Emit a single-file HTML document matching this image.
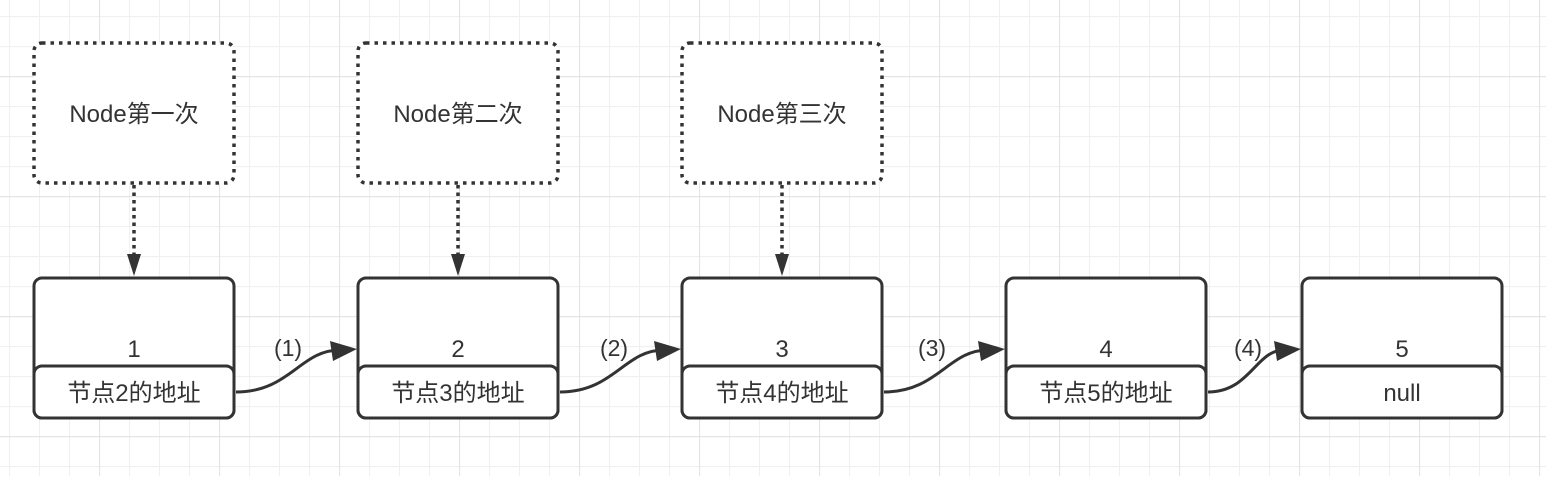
<!DOCTYPE html>
<html><head><meta charset="utf-8"><style>
body{margin:0;width:1546px;height:476px;overflow:hidden;background:#fff;}
</style></head><body>
<svg width="1546" height="476" xmlns="http://www.w3.org/2000/svg" font-family="Liberation Sans, Noto Sans CJK SC, sans-serif">
<defs>
<pattern id="g" width="30" height="30" patternUnits="userSpaceOnUse" x="9" y="16"><path d="M0 0.5H30M0.5 0V30" stroke="#f0f0f0" stroke-width="1.2" fill="none"/></pattern>
<pattern id="G" width="120" height="120" patternUnits="userSpaceOnUse" x="99" y="76"><path d="M0 0.5H120M0.5 0V120" stroke="#e4e4e4" stroke-width="1.2" fill="none"/></pattern>
</defs>
<rect width="1546" height="476" fill="url(#g)"/>
<rect width="1546" height="476" fill="url(#G)"/>
<g fill="#fff" stroke="#333" stroke-width="3.5" stroke-dasharray="3.5,5">
<rect x="34" y="43" width="200" height="140" rx="8"/>
<rect x="358" y="43" width="200" height="140" rx="8"/>
<rect x="682" y="43" width="200" height="140" rx="8"/>
</g>
<g stroke="#333" stroke-width="3.5" stroke-dasharray="3.5,4">
<line x1="134" y1="185" x2="134" y2="256"/>
<line x1="458" y1="185" x2="458" y2="256"/>
<line x1="782" y1="185" x2="782" y2="256"/>
</g>
<g fill="#333">
<path d="M127 254L141 254L134 276z"/>
<path d="M451 254L465 254L458 276z"/>
<path d="M775 254L789 254L782 276z"/>
</g>
<g font-size="24" fill="#333" text-anchor="middle">
<text x="134" y="122">Node第一次</text>
<text x="458" y="122">Node第二次</text>
<text x="782" y="122">Node第三次</text>
</g>
<g fill="#fff" stroke="#333" stroke-width="3">
<rect x="34" y="278" width="200" height="140" rx="8"/><rect x="34" y="366" width="200" height="52" rx="8"/>
<rect x="358" y="278" width="200" height="140" rx="8"/><rect x="358" y="366" width="200" height="52" rx="8"/>
<rect x="682" y="278" width="200" height="140" rx="8"/><rect x="682" y="366" width="200" height="52" rx="8"/>
<rect x="1006" y="278" width="200" height="140" rx="8"/><rect x="1006" y="366" width="200" height="52" rx="8"/>
<rect x="1302" y="278" width="200" height="140" rx="8"/><rect x="1302" y="366" width="200" height="52" rx="8"/>
</g>
<g font-size="24" fill="#333" text-anchor="middle">
<text x="134" y="357">1</text><text x="134" y="401">节点2的地址</text>
<text x="458" y="357">2</text><text x="458" y="401">节点3的地址</text>
<text x="782" y="357">3</text><text x="782" y="401">节点4的地址</text>
<text x="1106" y="357">4</text><text x="1106" y="401">节点5的地址</text>
<text x="1402" y="357">5</text><text x="1402" y="401">null</text>
</g>
<g fill="none" stroke="#333" stroke-width="3">
<path d="M236 392C290 392 300 350 340 350"/>
<path d="M560 392C614 392 624 350 664 350"/>
<path d="M884 392C938 392 948 350 988 350"/>
<path d="M1208 392C1250 392 1256 350 1284 350"/>
</g>
<g fill="#333">
<path d="M330 341L357 349L333 361z"/>
<path d="M654 341L681 349L657 361z"/>
<path d="M978 341L1005 349L981 361z"/>
<path d="M1274 341L1301 349L1277 361z"/>
</g>
<g font-size="23" fill="#333" text-anchor="middle">
<text x="288" y="356">(1)</text>
<text x="614" y="356">(2)</text>
<text x="932" y="356">(3)</text>
<text x="1248" y="356">(4)</text>
</g>
</svg>
</body></html>
